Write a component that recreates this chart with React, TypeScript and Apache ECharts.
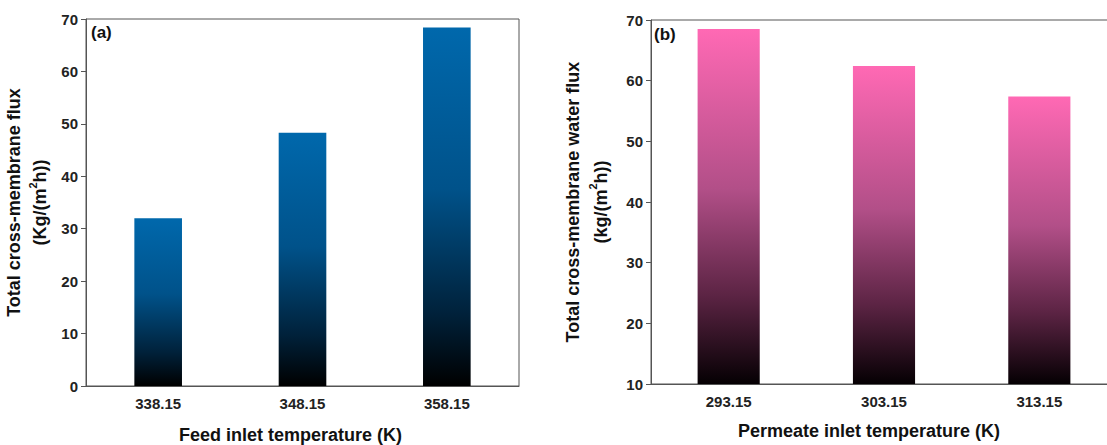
import React, { useEffect, useRef } from "react";
import * as echarts from "echarts";

const feedCategories = ["338.15", "348.15", "358.15"];
const feedFlux = [32.0, 48.3, 68.4];
const permCategories = ["293.15", "303.15", "313.15"];
const permFlux = [68.5, 62.4, 57.4];

const FONT = "'Liberation Sans', Arial, sans-serif";
const AXIS_COLOR = "#555";

const blueGrad = new echarts.graphic.LinearGradient(0, 0, 0, 1, [
  { offset: 0, color: "#0068ac" },
  { offset: 0.45, color: "#00528a" },
  { offset: 0.8, color: "#00213a" },
  { offset: 1, color: "#000000" },
]);
const pinkGrad = new echarts.graphic.LinearGradient(0, 0, 0, 1, [
  { offset: 0, color: "#ff69b4" },
  { offset: 0.45, color: "#b24f88" },
  { offset: 0.75, color: "#5c2444" },
  { offset: 1, color: "#050003" },
]);

const tickLabel = { fontFamily: FONT, fontWeight: "bold", fontSize: 15, color: "#222" };
const nameStyle = (extra: any = {}) => ({
  fontFamily: FONT,
  fontWeight: "bold",
  fontSize: 18,
  color: "#111",
  ...extra,
});

export default function App() {
  const ref = useRef<HTMLDivElement>(null);
  useEffect(() => {
    if (!ref.current) return;
    const chart = echarts.init(ref.current, null, { renderer: "svg" });
    const supRich = {
      sup: { fontFamily: FONT, fontWeight: "bold", fontSize: 11, color: "#111", verticalAlign: "top", padding: [0, 0, 10, 0] },
    };
    chart.setOption({
      animation: false,
      backgroundColor: "#fff",
      grid: [
        { left: 86, top: 19, width: 433, height: 367, show: true, borderColor: AXIS_COLOR, borderWidth: 1, backgroundColor: "transparent", outerBoundsMode: "none", containLabel: false },
        { left: 651, top: 20, width: 466, height: 364, show: true, borderColor: AXIS_COLOR, borderWidth: 1, backgroundColor: "transparent", outerBoundsMode: "none", containLabel: false },
      ],
      xAxis: [
        {
          type: "category",
          gridIndex: 0,
          data: feedCategories,
          name: "Feed inlet temperature (K)",
          nameLocation: "middle",
          nameGap: 40,
          nameTextStyle: nameStyle({ padding: [0, 24, 0, 0] }),
          axisLine: { lineStyle: { color: AXIS_COLOR } },
          axisTick: { alignWithLabel: true, length: 5, lineStyle: { color: AXIS_COLOR } },
          axisLabel: { ...tickLabel, margin: 10 },
        },
        {
          type: "category",
          gridIndex: 1,
          data: permCategories,
          name: "Permeate inlet temperature (K)",
          nameLocation: "middle",
          nameGap: 38,
          nameTextStyle: nameStyle({ padding: [0, 30, 0, 0] }),
          axisLine: { lineStyle: { color: AXIS_COLOR } },
          axisTick: { alignWithLabel: true, length: 5, lineStyle: { color: AXIS_COLOR } },
          axisLabel: { ...tickLabel, margin: 10 },
        },
      ],
      yAxis: [
        {
          type: "value",
          gridIndex: 0,
          min: 0,
          max: 70,
          interval: 10,
          name: "Total cross-membrane flux\n(Kg/(m{sup|2}h))",
          nameLocation: "middle",
          nameGap: 33,
          nameTextStyle: nameStyle({ lineHeight: 26, rich: supRich }),
          axisLine: { show: true, lineStyle: { color: AXIS_COLOR } },
          axisTick: { show: true, length: 5, lineStyle: { color: AXIS_COLOR } },
          axisLabel: { ...tickLabel, margin: 8 },
          splitLine: { show: false },
        },
        {
          type: "value",
          gridIndex: 1,
          min: 10,
          max: 70,
          interval: 10,
          name: "Total cross-membrane water flux\n(kg/(m{sup|2}h))",
          nameLocation: "middle",
          nameGap: 36,
          nameTextStyle: nameStyle({ lineHeight: 28, rich: supRich }),
          axisLine: { show: true, lineStyle: { color: AXIS_COLOR } },
          axisTick: { show: true, length: 5, lineStyle: { color: AXIS_COLOR } },
          axisLabel: { ...tickLabel, margin: 8 },
          splitLine: { show: false },
        },
      ],
      series: [
        {
          type: "bar",
          xAxisIndex: 0,
          yAxisIndex: 0,
          data: feedFlux,
          barWidth: "33%",
          itemStyle: { color: blueGrad },
        },
        {
          type: "bar",
          xAxisIndex: 1,
          yAxisIndex: 1,
          data: permFlux,
          barWidth: "40%",
          itemStyle: { color: pinkGrad },
        },
      ],
      graphic: [
        { type: "text", left: 91, top: 24, style: { text: "(a)", font: `bold 17px ${FONT}`, fill: "#111" } },
        { type: "text", left: 654, top: 26, style: { text: "(b)", font: `bold 17px ${FONT}`, fill: "#111" } },
      ],
    });
    return () => chart.dispose();
  }, []);
  return (
    <div
      ref={ref}
      style={{ position: "fixed", left: 0, top: 0, width: 1107, height: 445, overflow: "hidden" }}
    />
  );
}
